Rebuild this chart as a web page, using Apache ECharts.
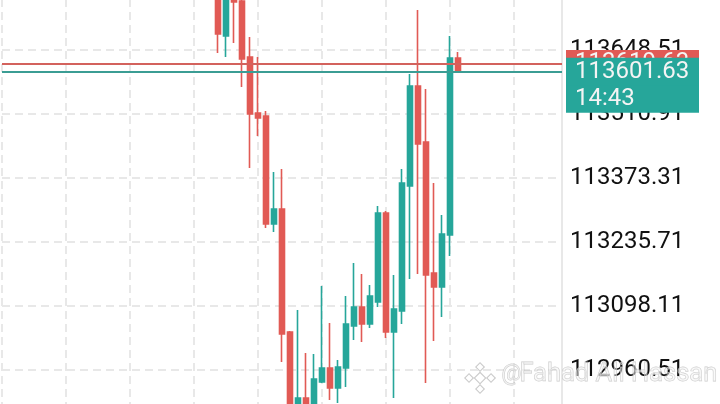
<!DOCTYPE html>
<html>
<head>
<meta charset="utf-8">
<script src="https://cdn.jsdelivr.net/npm/echarts@6/dist/echarts.min.js"></script>
<style>
html,body{margin:0;padding:0;background:#fff;}
#chart{width:720px;height:404px;}
</style>
</head>
<body>
<div id="chart"></div>
<script>
// ---- data ----
var opens  = [113777.5, 113678.6, 113760.3, 113753.9, 113633.5, 113513.0, 113506.6, 113274.4, 113306.7, 113042.2, 112842.3, 112900.3, 112863.8, 112934.7, 112964.8, 112921.8, 112964.8, 113055.1, 113095.9, 113059.4, 113106.7, 113298.1, 113042.2, 113087.4, 113356.1, 113571.1, 113450.7, 113169.0, 113138.9, 113250.8, 113631.3];
var closes = [113682.9, 113760.3, 113751.7, 113629.2, 113510.9, 113502.3, 113274.4, 113306.7, 113037.9, 112853.0, 112900.3, 112853.0, 112941.2, 112964.8, 112921.8, 112966.9, 113059.4, 113095.9, 113059.4, 113119.6, 113298.1, 113042.2, 113091.6, 113362.6, 113571.1, 113446.4, 113164.8, 113138.9, 113252.9, 113631.3, 113601.63];
var lows   = [113642.1, 113633.5, 113663.6, 113568.9, 113394.8, 113463.6, 113265.8, 113257.2, 112977.7, 112835.8, 112831.5, 112842.3, 112853.0, 112932.6, 112896.0, 112889.6, 112923.9, 113025.0, 113020.7, 113050.8, 113095.9, 113029.3, 112900.3, 113059.4, 113156.2, 113166.9, 112932.6, 113022.9, 113074.5, 113205.6, 113599.0];
var highs  = [113799.0, 113788.3, 113773.2, 113766.8, 113676.5, 113633.5, 113517.4, 113386.2, 113392.7, 113044.4, 113089.5, 112997.1, 112994.9, 113141.1, 113061.6, 112982.0, 113119.6, 113190.5, 113166.9, 113143.3, 113313.1, 113302.4, 113164.8, 113392.7, 113596.9, 113734.5, 113564.7, 113362.6, 113293.8, 113678.6, 113644.2];
var leadingEmpty = 27;   // slots to the left of the first visible candle
var trailingEmpty = 13;  // empty slots to the right of the last candle
var yTicks = [113648.51, 113510.91, 113373.31, 113235.71, 113098.11, 112960.51];
var priceLineA = 113619.63;   // red price line
var priceLineB = 113601.63;   // teal price line (last price)
var countdown = '14:43';
var watermarkAt = '@';
var watermarkName = 'Fahad Ali Hassan';

// ---- build ----
var UP = '#26a69a', DOWN = '#e15a55';
var total = leadingEmpty + opens.length + trailingEmpty;
var categories = [];
for (var i = 0; i < total; i++) {
  var m = 13 * 60 + 20 + i; // minute labels
  categories.push(Math.floor(m / 60) + ':' + ('0' + (m % 60)).slice(-2));
}
var candles = [];
for (var i = 0; i < leadingEmpty; i++) candles.push(['-', '-', '-', '-']);
for (var i = 0; i < opens.length; i++) candles.push([opens[i], closes[i], lows[i], highs[i]]);
for (var i = 0; i < trailingEmpty; i++) candles.push(['-', '-', '-', '-']);

var step = yTicks[0] - yTicks[1];
var yMin = yTicks[yTicks.length - 1] - step;
var yMax = yTicks[0] + step;

var FONT = 'Roboto, "Noto Sans", sans-serif';
var boxBase = {
  show: true, position: 'end', distance: 4,
  fontFamily: FONT, fontSize: 24, color: '#f4f4f4',
  width: 115, lineHeight: 27, align: 'left'
};
var wmStyle = {fill: 'rgba(245,245,245,0.5)', stroke: 'rgba(185,185,185,0.75)', lineWidth: 0.8};
var iconStyle = {fill: 'rgba(255,255,255,0.35)', stroke: 'rgba(185,185,185,0.75)', lineWidth: 1.1};

var chart = echarts.init(document.getElementById('chart'), null, {renderer: 'canvas'});
chart.setOption({
  animation: false,
  backgroundColor: '#ffffff',
  grid: {left: 2, right: 158, top: -14, bottom: -30, containLabel: false, outerBoundsMode: 'none'},
  xAxis: {
    type: 'category', data: categories, boundaryGap: false,
    axisLine: {show: false}, axisTick: {show: false}, axisLabel: {show: false},
    splitLine: {show: true, interval: 7, lineStyle: {color: '#e8e8e8', width: 2, type: [8, 5]}}
  },
  yAxis: {
    type: 'value', position: 'right', scale: true,
    min: yMin, max: yMax, interval: step,
    axisLine: {show: true, lineStyle: {color: '#e8e8e8', width: 2}},
    axisTick: {show: false},
    axisLabel: {
      show: true, margin: 8, color: '#111111', fontFamily: FONT, fontSize: 24,
      formatter: function (v) { return v.toFixed(2); }
    },
    splitLine: {show: true, lineStyle: {color: '#e8e8e8', width: 2, type: [8, 5]}}
  },
  series: [{
    type: 'candlestick',
    data: candles,
    barWidth: 5,
    itemStyle: {color: UP, color0: DOWN, borderColor: UP, borderColor0: DOWN, borderWidth: 1.6},
    markLine: {
      silent: true, symbol: ['none', 'none'], animation: false,
      data: [
        {yAxis: priceLineA, lineStyle: {color: '#d3625d', width: 2, type: 'solid'},
         label: Object.assign({}, boxBase, {verticalAlign: 'middle', backgroundColor: DOWN, padding: [0, 9, 0, 9],
           formatter: function (p) { return Number(p.value).toFixed(2); }})},
        {yAxis: priceLineB, lineStyle: {color: '#3b9d94', width: 2, type: 'solid'},
         label: Object.assign({}, boxBase, {verticalAlign: 'top', backgroundColor: UP, padding: [14, 9, 0, 9],
           formatter: function () { return countdown; }})},
        {yAxis: priceLineB, lineStyle: {color: '#3b9d94', width: 2, type: 'solid'},
         label: Object.assign({}, boxBase, {verticalAlign: 'middle', backgroundColor: UP, padding: [1, 9, 0, 9],
           formatter: function (p) { return Number(p.value).toFixed(2); }})}
      ]
    }
  }],
  graphic: [
    {
      type: 'group', left: 464, top: 362, z: 100,
      children: [
        {type: 'rect', x: 16, y: 15, rotation: Math.PI / 4, shape: {x: -4, y: -4, width: 8, height: 8}, style: iconStyle},
        {type: 'rect', x: 16, y: 4, rotation: Math.PI / 4, shape: {x: -3, y: -3, width: 6, height: 6}, style: iconStyle},
        {type: 'rect', x: 16, y: 26, rotation: Math.PI / 4, shape: {x: -3, y: -3, width: 6, height: 6}, style: iconStyle},
        {type: 'rect', x: 5, y: 15, rotation: Math.PI / 4, shape: {x: -3, y: -3, width: 6, height: 6}, style: iconStyle},
        {type: 'rect', x: 27, y: 15, rotation: Math.PI / 4, shape: {x: -3, y: -3, width: 6, height: 6}, style: iconStyle}
      ]
    },
    {
      type: 'text', left: 501, top: 363, z: 100,
      style: Object.assign({text: watermarkAt, font: '22px ' + FONT}, wmStyle)
    },
    {
      type: 'text', left: 519, top: 361, z: 100,
      style: Object.assign({text: watermarkName, font: '25.5px ' + FONT}, wmStyle)
    }
  ]
});
</script>
</body>
</html>
